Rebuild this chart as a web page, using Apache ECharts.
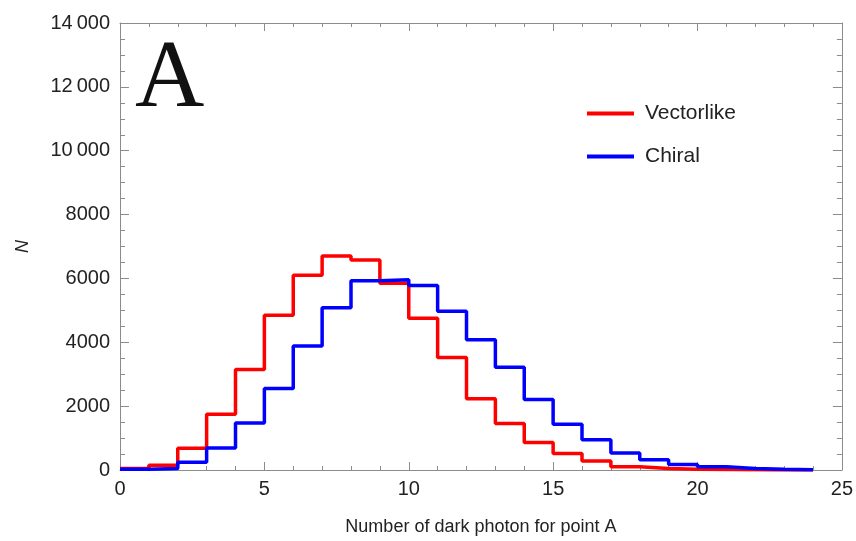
<!DOCTYPE html>
<html>
<head>
<meta charset="utf-8">
<script src="https://cdn.jsdelivr.net/npm/echarts@6/dist/echarts.min.js"></script>
<style>html,body{margin:0;padding:0;background:#fff}#c{width:856px;height:541px}</style>
</head>
<body>
<div id="c"></div>
<script>
// bin edges are 0..24 (bin i spans [i, i+1])
const binStarts = [0,1,2,3,4,5,6,7,8,9,10,11,12,13,14,15,16,17,18,19,20,21,22,23];
const vectorlike = [50,150,680,1750,3150,4850,6100,6700,6580,5850,4750,3520,2230,1460,865,520,280,100,50,25,15,8,3,1];
const chiral = [20,50,240,690,1470,2550,3880,5080,5930,5960,5780,4970,4080,3220,2210,1430,950,530,320,170,100,50,20,10];
const seriesNames = ['Vectorlike','Chiral'];
const xTicks = [0,5,10,15,20,25];
const yTicks = [0,2000,4000,6000,8000,10000,12000,14000];

function stepData(vals){
  const d = binStarts.map((x,i)=>[x, vals[i]]);
  d.push([binStarts[binStarts.length-1]+1, vals[vals.length-1]]);
  return d;
}
function fmtY(v){
  if (v >= 10000) { const s = String(v); return s.slice(0, s.length-3) + '\u2009' + s.slice(-3); }
  return String(v);
}
const axisCol = '#8c8c8c';
const labelFont = {color:'#222', fontFamily:'Liberation Sans, Arial, sans-serif', fontSize:20};
function xAx(pos, showLabel){
  return {type:'value', position:pos, min:xTicks[0], max:xTicks[xTicks.length-1], interval:5,
    axisLine:{show:true, onZero:false, lineStyle:{color:axisCol, width:1}},
    axisTick:{show:true, inside:true, length:8, lineStyle:{color:axisCol}},
    minorTick:{show:true, splitNumber:5, length:4, lineStyle:{color:axisCol}},
    splitLine:{show:false},
    axisLabel:Object.assign({show:showLabel, margin:9}, labelFont),
    name: showLabel ? 'Number of dark photon for point A' : '',
    nameLocation:'middle', nameGap:48,
    nameTextStyle:{color:'#222', fontFamily:'Liberation Sans, Arial, sans-serif', fontSize:18}
  };
}
function yAx(pos, showLabel){
  return {type:'value', position:pos, min:yTicks[0], max:yTicks[yTicks.length-1], interval:2000,
    axisLine:{show:true, onZero:false, lineStyle:{color:axisCol, width:1}},
    axisTick:{show:true, inside:true, length:9, lineStyle:{color:axisCol}},
    minorTick:{show:true, splitNumber:4, length:5, lineStyle:{color:axisCol}},
    splitLine:{show:false},
    axisLabel:Object.assign({show:showLabel, margin:10, formatter:fmtY}, labelFont),
    name: showLabel ? 'N' : '',
    nameLocation:'middle', nameGap:88, nameRotate:90,
    nameTextStyle:{color:'#222', fontFamily:'Liberation Sans, Arial, sans-serif', fontSize:18, fontStyle:'italic'}
  };
}
const chart = echarts.init(document.getElementById('c'), null, {renderer:'canvas'});
chart.setOption({
  animation:false,
  backgroundColor:'#fff',
  grid:{left:120, right:10, top:23, bottom:70},
  xAxis:[xAx('bottom', true), xAx('top', false)],
  yAxis:[yAx('left', true), yAx('right', false)],
  legend:{
    orient:'vertical', left:582, top:98, itemWidth:47, itemHeight:4, itemGap:22,
    icon:'rect',
    data:seriesNames,
    textStyle:{color:'#222', fontFamily:'Liberation Sans, Arial, sans-serif', fontSize:21, padding:[0,0,0,6]}
  },
  graphic:[{type:'text', left:135, top:33, style:{text:'A', fontFamily:'Liberation Serif, Times New Roman, serif', fontSize:96, fill:'#111'}}],
  series:[
    {name:seriesNames[0], type:'line', step:'end', xAxisIndex:0, yAxisIndex:0, showSymbol:false, symbol:'none',
     data:stepData(vectorlike), lineStyle:{color:'#ff0000', width:3.5}, itemStyle:{color:'#ff0000'}},
    {name:seriesNames[1], type:'line', step:'end', xAxisIndex:0, yAxisIndex:0, showSymbol:false, symbol:'none',
     data:stepData(chiral), lineStyle:{color:'#0000ff', width:3.5}, itemStyle:{color:'#0000ff'}}
  ]
});
</script>
</body>
</html>
